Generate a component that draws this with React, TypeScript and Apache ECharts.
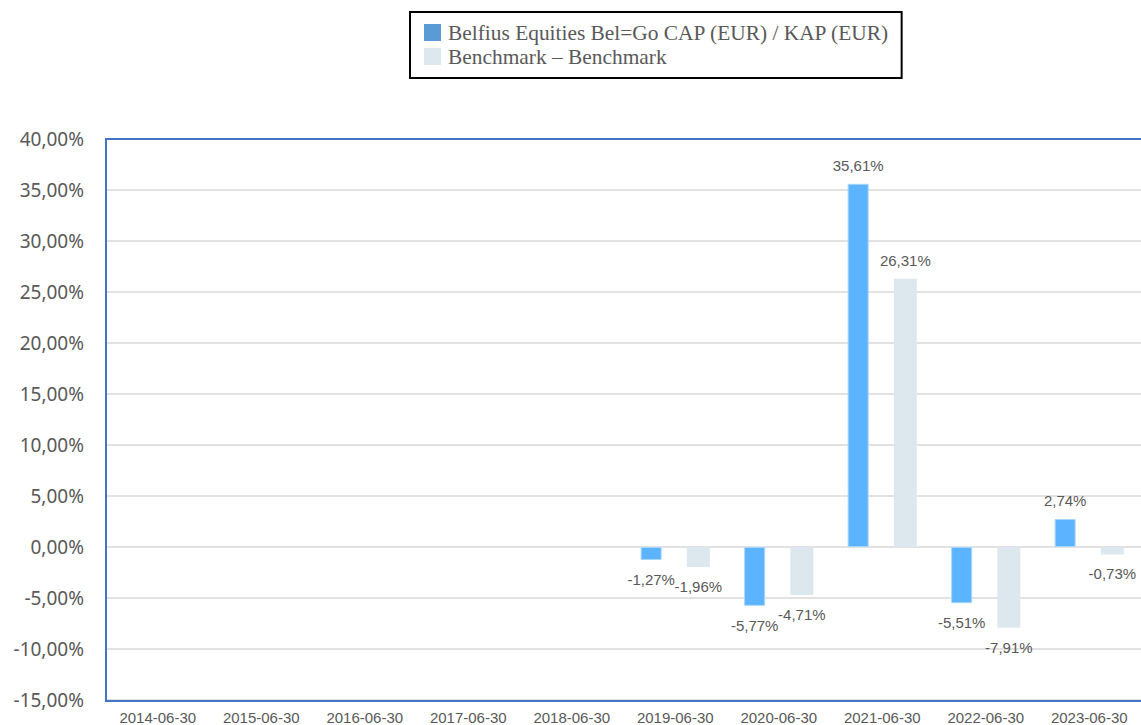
import React, { useEffect, useRef } from "react";
import * as echarts from "echarts";

const categories = [
  "2014-06-30", "2015-06-30", "2016-06-30", "2017-06-30", "2018-06-30",
  "2019-06-30", "2020-06-30", "2021-06-30", "2022-06-30", "2023-06-30",
];
const fundName = "Belfius Equities Bel=Go CAP (EUR) / KAP (EUR)";
const benchName = "Benchmark – Benchmark";
const fundValues: (number | null)[] = [null, null, null, null, null, -1.27, -5.77, 35.61, -5.51, 2.74];
const benchValues: (number | null)[] = [null, null, null, null, null, -1.96, -4.71, 26.31, -7.91, -0.73];
const yMin = -15;
const yMax = 40;
const yStep = 5;

const fmt = (v: number) => v.toFixed(2).replace(".", ",") + "%";

const labelFor = (v: number | null) =>
  v === null
    ? undefined
    : {
        show: true,
        position: v >= 0 ? "top" : "bottom",
        distance: v >= 0 ? 11 : 12,
      };

export default function App() {
  const ref = useRef<HTMLDivElement>(null);
  useEffect(() => {
    if (!ref.current) return;
    const chart = echarts.init(ref.current, null, { renderer: "svg" });
    const labelBase = {
      show: true,
      color: "#595959",
      fontSize: 15,
      fontFamily: "'Liberation Sans', Arial, sans-serif",
      formatter: (p: any) => fmt(p.value),
    };
    chart.setOption({
      animation: false,
      backgroundColor: "#ffffff",
      legend: {
        orient: "vertical",
        left: 410,
        top: 12,
        padding: [10, 12, 11, 14],
        borderColor: "#000000",
        borderWidth: 2,
        itemWidth: 17,
        itemHeight: 17,
        itemGap: 3,
        icon: "rect",
        selectedMode: false,
        textStyle: {
          color: "#595959",
          fontSize: 21.4,
          fontFamily: "'Liberation Serif', 'Times New Roman', serif",
          padding: [0, 0, 0, 2],
        },
        data: [
          { name: fundName, itemStyle: { color: "#5b9bd5", borderWidth: 0 } },
          { name: benchName, itemStyle: { color: "#dce8ee", borderWidth: 0 } },
        ],
      },
      grid: { left: 106, top: 139, width: 1037, height: 562, containLabel: false },
      xAxis: {
        type: "category",
        data: categories,
        axisLine: { show: false, onZero: false },
        axisTick: { show: false },
        axisLabel: {
          color: "#595959",
          fontSize: 15,
          fontFamily: "'Liberation Sans', Arial, sans-serif",
          margin: 10,
          interval: 0,
        },
        splitLine: { show: false },
      },
      yAxis: {
        type: "value",
        min: yMin,
        max: yMax,
        interval: yStep,
        axisLine: { show: false },
        axisTick: { show: false },
        axisLabel: {
          color: "#595959",
          fontSize: 19,
          fontFamily: "'Noto Sans', 'Open Sans', sans-serif",
          margin: 22,
          formatter: (v: number) => fmt(v),
        },
        splitLine: { show: true, lineStyle: { color: "#d9d9d9", width: 1.5 } },
      },
      series: [
        {
          name: fundName,
          type: "bar",
          barWidth: 21,
          barGap: "120%",
          itemStyle: { color: "#5cb3ff", borderColor: "#a8d6ff", borderWidth: 1 },
          label: labelBase,
          data: fundValues.map((v) => (v === null ? null : { value: v, label: labelFor(v) })),
        },
        {
          name: benchName,
          type: "bar",
          barWidth: 23,
          itemStyle: { color: "#dce8ee" },
          label: labelBase,
          data: benchValues.map((v) => (v === null ? null : { value: v, label: labelFor(v) })),
        },
      ],
      graphic: [
        {
          type: "rect",
          z: 100,
          silent: true,
          shape: { x: 106, y: 139, width: 1037, height: 562 },
          style: { fill: "none", stroke: "#4472c4", lineWidth: 2 },
        },
      ],
    });
    return () => chart.dispose();
  }, []);
  return <div ref={ref} style={{ width: 1141, height: 725, position: "absolute", left: 0, top: 0 }} />;
}
